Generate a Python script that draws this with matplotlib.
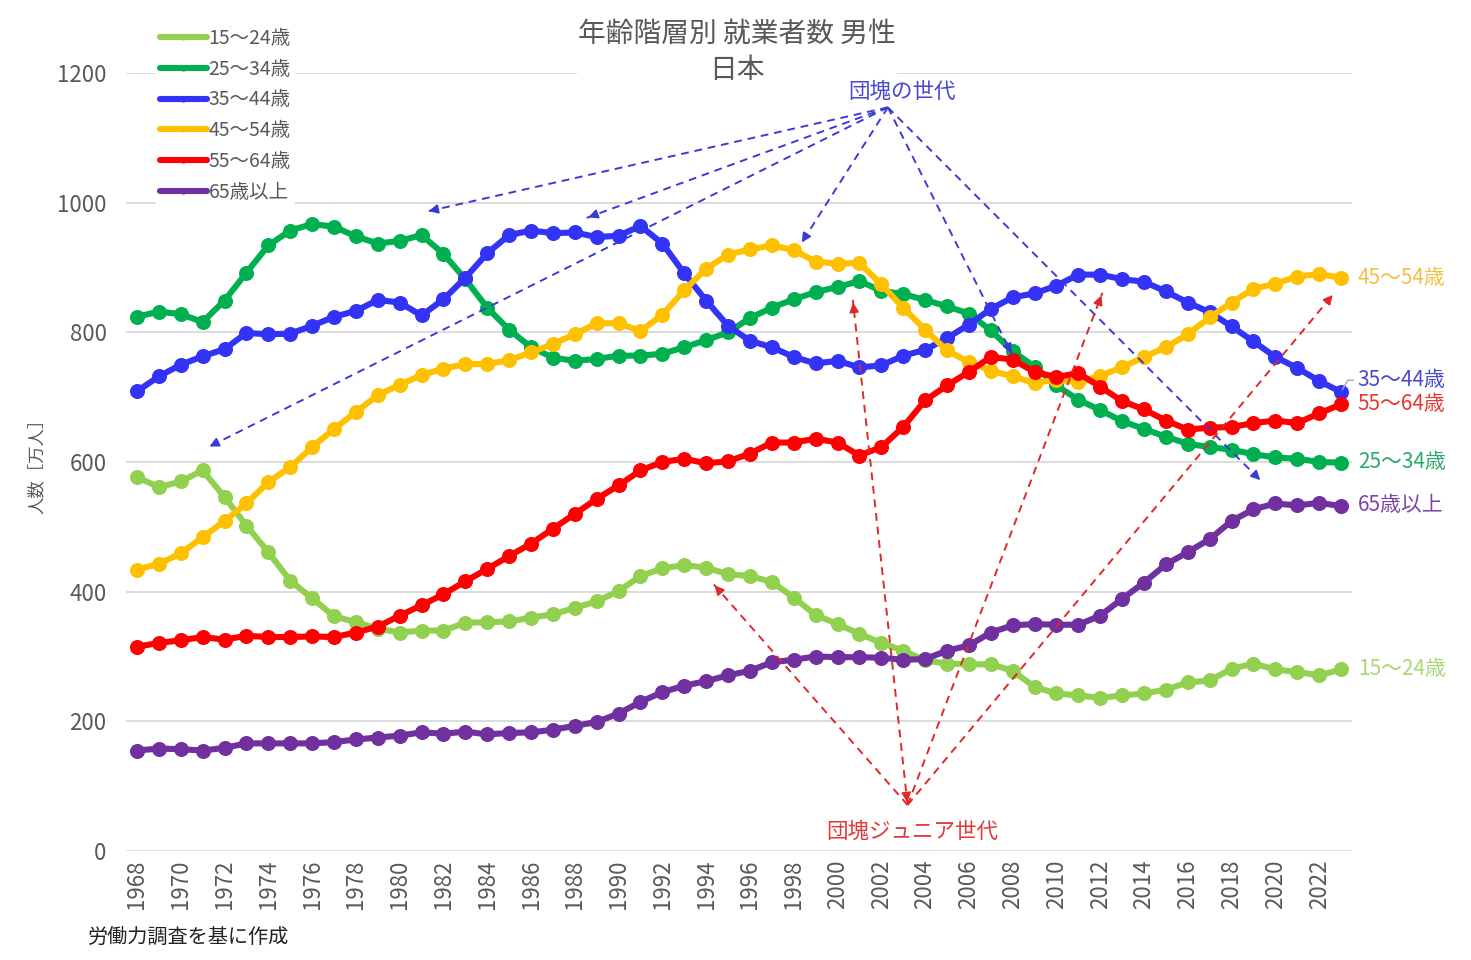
import numpy as np
import matplotlib
matplotlib.use("Agg")
import matplotlib.pyplot as plt

plt.rcParams["font.family"] = ["Noto Sans CJK JP", "DejaVu Sans"]

years = list(range(1968, 2024))

age15_24 = [577, 561, 570, 587, 546, 502, 461, 417, 390, 362,
            353, 343, 337, 340, 340, 352, 353, 354, 360, 365,
            375, 385, 401, 424, 436, 441, 437, 427, 424, 415,
            391, 364, 350, 335, 321, 309, 294, 289, 288, 288,
            278, 253, 243, 240, 236, 240, 243, 249, 260, 263,
            281, 289, 280, 276, 271, 280]
age25_34 = [824, 832, 828, 816, 849, 892, 934, 957, 967, 963,
            948, 937, 941, 950, 921, 882, 838, 804, 777, 761,
            756, 759, 764, 764, 767, 777, 788, 800, 822, 838,
            851, 862, 870, 879, 864, 859, 850, 840, 829, 803,
            771, 747, 718, 696, 680, 663, 651, 639, 628, 623,
            619, 612, 607, 605, 600, 599]
age35_44 = [709, 732, 750, 763, 774, 799, 797, 798, 810, 824,
            833, 850, 846, 826, 851, 884, 922, 950, 957, 953,
            954, 947, 949, 964, 937, 891, 849, 810, 787, 777,
            762, 752, 756, 746, 749, 764, 773, 791, 812, 836,
            854, 860, 872, 889, 889, 882, 878, 863, 846, 831,
            809, 786, 762, 745, 725, 708]
age45_54 = [434, 443, 459, 484, 509, 536, 569, 592, 623, 651,
            677, 703, 719, 734, 744, 751, 751, 757, 769, 782,
            797, 814, 814, 802, 827, 865, 898, 920, 928, 934,
            927, 909, 906, 907, 874, 838, 804, 772, 754, 741,
            732, 722, 727, 723, 733, 746, 762, 777, 797, 823,
            846, 867, 875, 886, 890, 884]
age55_64 = [315, 321, 325, 330, 326, 332, 330, 330, 331, 330,
            337, 346, 363, 379, 396, 416, 435, 455, 474, 497,
            520, 543, 564, 587, 600, 605, 598, 601, 613, 630,
            630, 636, 630, 610, 623, 654, 695, 718, 739, 762,
            758, 739, 731, 737, 716, 694, 681, 664, 650, 653,
            654, 660, 664, 660, 675, 689]
age65plus = [155, 158, 157, 155, 159, 166, 166, 166, 166, 168,
             172, 175, 178, 183, 181, 184, 180, 182, 183, 187,
             193, 199, 212, 230, 245, 255, 262, 271, 278, 291,
             295, 300, 299, 299, 298, 295, 296, 309, 317, 337,
             348, 350, 349, 349, 363, 389, 414, 442, 461, 481,
             509, 527, 536, 533, 537, 532]

labels = ["15～24歳", "25～34歳", "35～44歳", "45～54歳", "55～64歳", "65歳以上"]
colors = ["#92D050", "#00B050", "#3333F5", "#FFC000", "#FF0000", "#7030A0"]
label_colors = ["#A6D873", "#2DA86A", "#4848D0", "#F2C040", "#E83535", "#7A45A8"]
series = [age15_24, age25_34, age35_44, age45_54, age55_64, age65plus]

# end-of-line labels: value where each text sits
end_label_y = [281, 600, 726, 884, 689, 534]

# 団塊の世代 arrows (year, value)
dankai_from = (2002.3, 1147)
dankai_to = [(1981.2, 986), (1988.5, 976), (1971.2, 622),
             (1998.3, 935), (2008.0, 764), (2019.4, 569)]
# 団塊ジュニア世代 arrows
junior_from = (2003.2, 71)
junior_to = [(1994.3, 413), (2000.7, 850), (2012.1, 861), (2022.7, 861)]

fig = plt.figure(figsize=(14.71, 9.6), dpi=100)
ax = fig.add_axes([126 / 1471, 1 - 851 / 960, (1352 - 126) / 1471, (851 - 73) / 960])

for vals, c, lab in zip(series, colors, labels):
    ax.plot(years, vals, color=c, lw=4.4, marker="o", ms=9.8, label=lab,
            solid_capstyle="round", zorder=3)

ax.set_xlim(1967.5, 2023.5)
ax.set_ylim(0, 1200)
ax.set_yticks(range(0, 1201, 200))
ax.set_xticks(years[::2])
ax.tick_params(axis="x", rotation=90, length=0, pad=6, labelsize=16, labelcolor="#595959")
ax.tick_params(axis="y", length=0, pad=14, labelsize=16, labelcolor="#595959")
ax.grid(axis="y", color="#D9D9D9", lw=1.3)
ax.set_axisbelow(True)
for s in ax.spines.values():
    s.set_visible(False)
ax.set_ylabel("人数［万人］", fontsize=12.5, color="#595959", labelpad=8)

# end labels
for vals, lab, c, ly in zip(series, labels, label_colors, end_label_y):
    ax.annotate(lab, xy=(years[-1], ly), xytext=(12, 0), textcoords="offset points",
                fontsize=15, color=c, va="center", ha="left", annotation_clip=False)
ax.annotate("", xy=(years[-1], age35_44[-1]), xytext=(2023.7, 726),
            arrowprops=dict(arrowstyle="-", color="#A6A6A6", lw=1,
                            connectionstyle="angle,angleA=0,angleB=60,rad=0"),
            annotation_clip=False)


def dashed_arrow(start, end, color, both=False):
    ax.plot([start[0], end[0]], [start[1], end[1]], ls=(0, (4, 3)), color=color,
            lw=1.4, zorder=4)
    ends = [(end, start)] + ([(start, end)] if both else [])
    for tip, tail in ends:
        p0 = ax.transData.transform(tail)
        p1 = ax.transData.transform(tip)
        d = (p1 - p0) / np.hypot(*(p1 - p0))
        ax.annotate("", xy=tip, xytext=(-d[0] * 14, -d[1] * 14), textcoords="offset pixels",
                    arrowprops=dict(arrowstyle="-|>", color=color, lw=1.2,
                                    mutation_scale=14), zorder=4)


for t in dankai_to:
    dashed_arrow(dankai_from, t, "#3A3AD8")
for i, t in enumerate(junior_to):
    dashed_arrow(junior_from, t, "#E02828", both=(i == 1))

fig.text(902 / 1471, 1 - 92 / 960, "団塊の世代", fontsize=15.5, color="#4848D0",
         ha="center", va="center", zorder=6)
ax.text(2003.4, 30, "団塊ジュニア世代", fontsize=15.5, color="#E03A3A", ha="center", va="center")

fig.text(737 / 1471, 1 - 52 / 960, "年齢階層別 就業者数 男性\n日本", ha="center", va="center",
         fontsize=20, color="#595959", linespacing=1.3, zorder=5,
         bbox=dict(facecolor="white", edgecolor="none", pad=0.5))

leg = ax.legend(loc="upper left", bbox_to_anchor=(156 / 1471, 1 - 24 / 960),
                bbox_transform=fig.transFigure, fontsize=14, frameon=True,
                facecolor="white", edgecolor="none", framealpha=1, markerscale=0.35,
                handlelength=2.4, handletextpad=0.1, labelspacing=0.5, borderpad=0.2,
                borderaxespad=0)
for t in leg.get_texts():
    t.set_color("#595959")

fig.text(88 / 1471, 1 - 937 / 960, "労働力調査を基に作成", fontsize=14.5, color="#222222",
         ha="left", va="center")

fig.savefig("out.png", dpi=100, facecolor="white")
